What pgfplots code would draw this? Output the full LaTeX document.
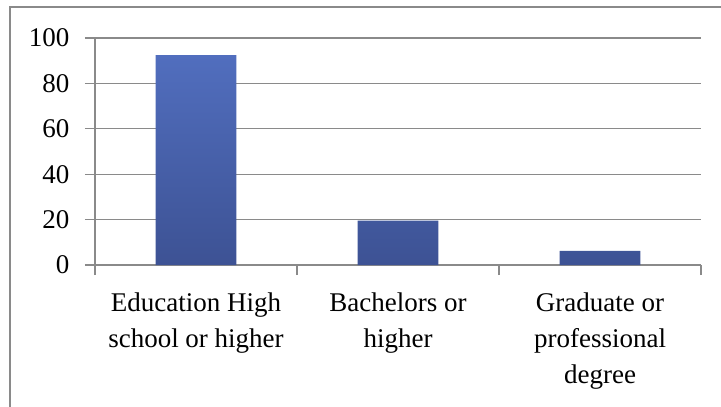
\documentclass[border=0pt]{standalone}
\usepackage{fontspec}
\setmainfont{Liberation Serif}
\usepackage{pgfplots}
\pgfplotsset{compat=1.18}
\definecolor{gridgray}{RGB}{138,138,138}
\definecolor{bartop}{RGB}{81,110,190}
\definecolor{barbot}{RGB}{61,82,148}

\begin{document}
\begin{tikzpicture}[x=1bp,y=1bp]
\useasboundingbox (0,0) rectangle (721,406);
% outer chart frame (cut off at the right and bottom)
\draw[gridgray, line width=1.3bp] (10,-20) -- (10,399) -- (760,399);
\begin{axis}[
    at={(95bp,141bp)}, anchor=south west,
    scale only axis,
    width=606bp, height=227bp,
    xmin=-0.5, xmax=2.5,
    ymin=0, ymax=100,
    ytick={0,20,40,60,80,100},
    xtick={-0.5,0.5,1.5,2.5},
    xticklabels={},
    extra x ticks={0,1,2},
    extra x tick labels={{Education High\\school or higher},{Bachelors or\\higher},{Graduate or\\professional\\degree}},
    extra x tick style={tick style={draw=none}},
    axis lines*=left,
    axis line style={gridgray, line width=1.2bp},
    tick style={gridgray, line width=1.2bp},
    tick align=outside,
    major tick length=10bp,
    ymajorgrids,
    grid style={gridgray, line width=1.2bp},
    /pgf/number format/assume math mode=true,
    ticklabel style={font=\fontsize{27bp}{36bp}\selectfont},
    yticklabel style={xshift=-12bp},
    xticklabel style={align=center, anchor=north, yshift=-14bp},
    clip=false,
]
\addplot[ybar, bar width=0.4, draw=none, top color=bartop, bottom color=barbot]
    coordinates {(0,92.5) (1,19.6) (2,6.2)};
\end{axis}
\end{tikzpicture}
\end{document}
